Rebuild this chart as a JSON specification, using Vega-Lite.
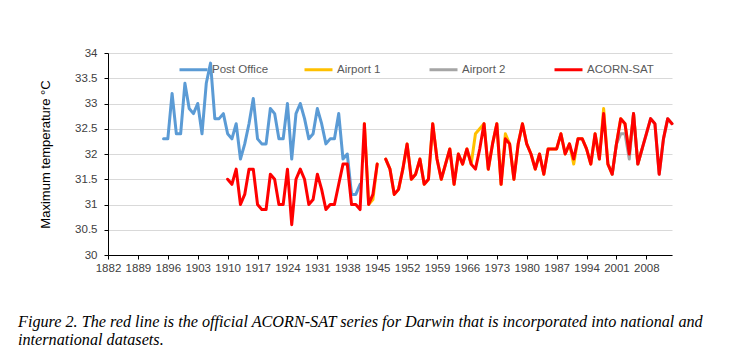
{
"$schema":"https://vega.github.io/schema/vega-lite/v6.json",
"width":564,"height":202,
"autosize":{"type":"none"},
"padding":{"left":108,"top":53,"right":62,"bottom":104},
"background":"white",
"config":{"view":{"stroke":null},"font":"Liberation Sans"},
"title":{"text":["Figure 2.  The red line is the official ACORN-SAT series for Darwin that is incorporated into national and","international datasets."],"orient":"bottom","anchor":"start","frame":"group","dx":-90,"offset":40,"font":"Liberation Serif","fontStyle":"italic","fontWeight":"normal","fontSize":16.2,"color":"#000000","lineHeight":18},
"data":{"values":[
{"year":1895,"series":"Post Office","temp":32.3},{"year":1896,"series":"Post Office","temp":32.3},{"year":1897,"series":"Post Office","temp":33.2},{"year":1898,"series":"Post Office","temp":32.4},{"year":1899,"series":"Post Office","temp":32.4},{"year":1900,"series":"Post Office","temp":33.4},{"year":1901,"series":"Post Office","temp":32.9},{"year":1902,"series":"Post Office","temp":32.8},{"year":1903,"series":"Post Office","temp":33.0},{"year":1904,"series":"Post Office","temp":32.4},{"year":1905,"series":"Post Office","temp":33.4},{"year":1906,"series":"Post Office","temp":33.8},{"year":1907,"series":"Post Office","temp":32.7},{"year":1908,"series":"Post Office","temp":32.7},{"year":1909,"series":"Post Office","temp":32.8},{"year":1910,"series":"Post Office","temp":32.4},{"year":1911,"series":"Post Office","temp":32.3},{"year":1912,"series":"Post Office","temp":32.6},{"year":1913,"series":"Post Office","temp":31.9},{"year":1914,"series":"Post Office","temp":32.2},{"year":1915,"series":"Post Office","temp":32.6},{"year":1916,"series":"Post Office","temp":33.1},{"year":1917,"series":"Post Office","temp":32.3},{"year":1918,"series":"Post Office","temp":32.2},{"year":1919,"series":"Post Office","temp":32.2},{"year":1920,"series":"Post Office","temp":32.9},{"year":1921,"series":"Post Office","temp":32.8},{"year":1922,"series":"Post Office","temp":32.3},{"year":1923,"series":"Post Office","temp":32.3},{"year":1924,"series":"Post Office","temp":33.0},{"year":1925,"series":"Post Office","temp":31.9},{"year":1926,"series":"Post Office","temp":32.8},{"year":1927,"series":"Post Office","temp":33.0},{"year":1928,"series":"Post Office","temp":32.7},{"year":1929,"series":"Post Office","temp":32.3},{"year":1930,"series":"Post Office","temp":32.4},{"year":1931,"series":"Post Office","temp":32.9},{"year":1932,"series":"Post Office","temp":32.6},{"year":1933,"series":"Post Office","temp":32.2},{"year":1934,"series":"Post Office","temp":32.3},{"year":1935,"series":"Post Office","temp":32.3},{"year":1936,"series":"Post Office","temp":32.8},{"year":1937,"series":"Post Office","temp":31.9},{"year":1938,"series":"Post Office","temp":32.0},{"year":1939,"series":"Post Office","temp":31.2},{"year":1940,"series":"Post Office","temp":31.2},{"year":1941,"series":"Post Office","temp":31.4},
{"year":1942,"series":"Airport 1","temp":32.6},{"year":1943,"series":"Airport 1","temp":31.0},{"year":1944,"series":"Airport 1","temp":31.1},{"year":1945,"series":"Airport 1","temp":31.8},{"year":1946,"series":"Airport 1","temp":null},{"year":1947,"series":"Airport 1","temp":31.9},{"year":1948,"series":"Airport 1","temp":31.7},{"year":1949,"series":"Airport 1","temp":31.2},{"year":1950,"series":"Airport 1","temp":31.3},{"year":1951,"series":"Airport 1","temp":31.7},{"year":1952,"series":"Airport 1","temp":32.2},{"year":1953,"series":"Airport 1","temp":31.5},{"year":1954,"series":"Airport 1","temp":31.6},{"year":1955,"series":"Airport 1","temp":31.9},{"year":1956,"series":"Airport 1","temp":31.4},{"year":1957,"series":"Airport 1","temp":31.5},{"year":1958,"series":"Airport 1","temp":32.6},{"year":1959,"series":"Airport 1","temp":31.9},{"year":1960,"series":"Airport 1","temp":31.5},{"year":1961,"series":"Airport 1","temp":31.8},{"year":1962,"series":"Airport 1","temp":32.1},{"year":1963,"series":"Airport 1","temp":31.4},{"year":1964,"series":"Airport 1","temp":32.0},{"year":1965,"series":"Airport 1","temp":31.8},{"year":1966,"series":"Airport 1","temp":32.1},{"year":1967,"series":"Airport 1","temp":31.8},{"year":1968,"series":"Airport 1","temp":32.4},{"year":1969,"series":"Airport 1","temp":32.5},{"year":1970,"series":"Airport 1","temp":32.6},{"year":1971,"series":"Airport 1","temp":31.7},{"year":1972,"series":"Airport 1","temp":32.2},{"year":1973,"series":"Airport 1","temp":32.6},{"year":1974,"series":"Airport 1","temp":31.4},{"year":1975,"series":"Airport 1","temp":32.4},{"year":1976,"series":"Airport 1","temp":32.2},{"year":1977,"series":"Airport 1","temp":31.5},{"year":1978,"series":"Airport 1","temp":32.2},{"year":1979,"series":"Airport 1","temp":32.6},{"year":1980,"series":"Airport 1","temp":32.2},{"year":1981,"series":"Airport 1","temp":32.0},{"year":1982,"series":"Airport 1","temp":31.7},{"year":1983,"series":"Airport 1","temp":32.0},{"year":1984,"series":"Airport 1","temp":31.6},{"year":1985,"series":"Airport 1","temp":32.1},{"year":1986,"series":"Airport 1","temp":32.1},{"year":1987,"series":"Airport 1","temp":32.1},{"year":1988,"series":"Airport 1","temp":32.4},{"year":1989,"series":"Airport 1","temp":32.0},{"year":1990,"series":"Airport 1","temp":32.2},{"year":1991,"series":"Airport 1","temp":31.8},{"year":1992,"series":"Airport 1","temp":32.3},{"year":1993,"series":"Airport 1","temp":32.3},{"year":1994,"series":"Airport 1","temp":32.1},{"year":1995,"series":"Airport 1","temp":31.8},{"year":1996,"series":"Airport 1","temp":32.4},{"year":1997,"series":"Airport 1","temp":31.9},{"year":1998,"series":"Airport 1","temp":32.9},{"year":1999,"series":"Airport 1","temp":31.8},{"year":2000,"series":"Airport 1","temp":31.6},{"year":2001,"series":"Airport 1","temp":32.2},{"year":2002,"series":"Airport 1","temp":32.7},{"year":2003,"series":"Airport 1","temp":32.6},{"year":2004,"series":"Airport 1","temp":32.0},{"year":2005,"series":"Airport 1","temp":32.8},{"year":2006,"series":"Airport 1","temp":31.8},{"year":2007,"series":"Airport 1","temp":32.1},
{"year":2000,"series":"Airport 2","temp":31.6},{"year":2001,"series":"Airport 2","temp":32.2},{"year":2002,"series":"Airport 2","temp":32.4},{"year":2003,"series":"Airport 2","temp":32.4},{"year":2004,"series":"Airport 2","temp":31.9},{"year":2005,"series":"Airport 2","temp":32.8},{"year":2006,"series":"Airport 2","temp":31.8},{"year":2007,"series":"Airport 2","temp":32.1},{"year":2008,"series":"Airport 2","temp":32.4},{"year":2009,"series":"Airport 2","temp":32.7},{"year":2010,"series":"Airport 2","temp":32.6},{"year":2011,"series":"Airport 2","temp":31.6},{"year":2012,"series":"Airport 2","temp":32.3},{"year":2013,"series":"Airport 2","temp":32.7},{"year":2014,"series":"Airport 2","temp":32.6},
{"year":1910,"series":"ACORN-SAT","temp":31.5},{"year":1911,"series":"ACORN-SAT","temp":31.4},{"year":1912,"series":"ACORN-SAT","temp":31.7},{"year":1913,"series":"ACORN-SAT","temp":31.0},{"year":1914,"series":"ACORN-SAT","temp":31.2},{"year":1915,"series":"ACORN-SAT","temp":31.7},{"year":1916,"series":"ACORN-SAT","temp":31.7},{"year":1917,"series":"ACORN-SAT","temp":31.0},{"year":1918,"series":"ACORN-SAT","temp":30.9},{"year":1919,"series":"ACORN-SAT","temp":30.9},{"year":1920,"series":"ACORN-SAT","temp":31.6},{"year":1921,"series":"ACORN-SAT","temp":31.5},{"year":1922,"series":"ACORN-SAT","temp":31.0},{"year":1923,"series":"ACORN-SAT","temp":31.0},{"year":1924,"series":"ACORN-SAT","temp":31.7},{"year":1925,"series":"ACORN-SAT","temp":30.6},{"year":1926,"series":"ACORN-SAT","temp":31.5},{"year":1927,"series":"ACORN-SAT","temp":31.7},{"year":1928,"series":"ACORN-SAT","temp":31.5},{"year":1929,"series":"ACORN-SAT","temp":31.0},{"year":1930,"series":"ACORN-SAT","temp":31.1},{"year":1931,"series":"ACORN-SAT","temp":31.6},{"year":1932,"series":"ACORN-SAT","temp":31.3},{"year":1933,"series":"ACORN-SAT","temp":30.9},{"year":1934,"series":"ACORN-SAT","temp":31.0},{"year":1935,"series":"ACORN-SAT","temp":31.0},{"year":1936,"series":"ACORN-SAT","temp":31.4},{"year":1937,"series":"ACORN-SAT","temp":31.8},{"year":1938,"series":"ACORN-SAT","temp":31.8},{"year":1939,"series":"ACORN-SAT","temp":31.0},{"year":1940,"series":"ACORN-SAT","temp":31.0},{"year":1941,"series":"ACORN-SAT","temp":30.9},{"year":1942,"series":"ACORN-SAT","temp":32.6},{"year":1943,"series":"ACORN-SAT","temp":31.0},{"year":1944,"series":"ACORN-SAT","temp":31.2},{"year":1945,"series":"ACORN-SAT","temp":31.8},{"year":1946,"series":"ACORN-SAT","temp":null},{"year":1947,"series":"ACORN-SAT","temp":31.9},{"year":1948,"series":"ACORN-SAT","temp":31.7},{"year":1949,"series":"ACORN-SAT","temp":31.2},{"year":1950,"series":"ACORN-SAT","temp":31.3},{"year":1951,"series":"ACORN-SAT","temp":31.7},{"year":1952,"series":"ACORN-SAT","temp":32.2},{"year":1953,"series":"ACORN-SAT","temp":31.5},{"year":1954,"series":"ACORN-SAT","temp":31.6},{"year":1955,"series":"ACORN-SAT","temp":31.9},{"year":1956,"series":"ACORN-SAT","temp":31.4},{"year":1957,"series":"ACORN-SAT","temp":31.5},{"year":1958,"series":"ACORN-SAT","temp":32.6},{"year":1959,"series":"ACORN-SAT","temp":31.9},{"year":1960,"series":"ACORN-SAT","temp":31.5},{"year":1961,"series":"ACORN-SAT","temp":31.8},{"year":1962,"series":"ACORN-SAT","temp":32.1},{"year":1963,"series":"ACORN-SAT","temp":31.4},{"year":1964,"series":"ACORN-SAT","temp":32.0},{"year":1965,"series":"ACORN-SAT","temp":31.8},{"year":1966,"series":"ACORN-SAT","temp":32.1},{"year":1967,"series":"ACORN-SAT","temp":31.8},{"year":1968,"series":"ACORN-SAT","temp":31.7},{"year":1969,"series":"ACORN-SAT","temp":32.1},{"year":1970,"series":"ACORN-SAT","temp":32.6},{"year":1971,"series":"ACORN-SAT","temp":31.7},{"year":1972,"series":"ACORN-SAT","temp":32.2},{"year":1973,"series":"ACORN-SAT","temp":32.6},{"year":1974,"series":"ACORN-SAT","temp":31.4},{"year":1975,"series":"ACORN-SAT","temp":32.3},{"year":1976,"series":"ACORN-SAT","temp":32.2},{"year":1977,"series":"ACORN-SAT","temp":31.5},{"year":1978,"series":"ACORN-SAT","temp":32.2},{"year":1979,"series":"ACORN-SAT","temp":32.6},{"year":1980,"series":"ACORN-SAT","temp":32.2},{"year":1981,"series":"ACORN-SAT","temp":32.0},{"year":1982,"series":"ACORN-SAT","temp":31.7},{"year":1983,"series":"ACORN-SAT","temp":32.0},{"year":1984,"series":"ACORN-SAT","temp":31.6},{"year":1985,"series":"ACORN-SAT","temp":32.1},{"year":1986,"series":"ACORN-SAT","temp":32.1},{"year":1987,"series":"ACORN-SAT","temp":32.1},{"year":1988,"series":"ACORN-SAT","temp":32.4},{"year":1989,"series":"ACORN-SAT","temp":32.0},{"year":1990,"series":"ACORN-SAT","temp":32.2},{"year":1991,"series":"ACORN-SAT","temp":31.9},{"year":1992,"series":"ACORN-SAT","temp":32.3},{"year":1993,"series":"ACORN-SAT","temp":32.3},{"year":1994,"series":"ACORN-SAT","temp":32.1},{"year":1995,"series":"ACORN-SAT","temp":31.8},{"year":1996,"series":"ACORN-SAT","temp":32.4},{"year":1997,"series":"ACORN-SAT","temp":31.9},{"year":1998,"series":"ACORN-SAT","temp":32.8},{"year":1999,"series":"ACORN-SAT","temp":31.8},{"year":2000,"series":"ACORN-SAT","temp":31.6},{"year":2001,"series":"ACORN-SAT","temp":32.2},{"year":2002,"series":"ACORN-SAT","temp":32.7},{"year":2003,"series":"ACORN-SAT","temp":32.6},{"year":2004,"series":"ACORN-SAT","temp":32.0},{"year":2005,"series":"ACORN-SAT","temp":32.8},{"year":2006,"series":"ACORN-SAT","temp":31.8},{"year":2007,"series":"ACORN-SAT","temp":32.1},{"year":2008,"series":"ACORN-SAT","temp":32.4},{"year":2009,"series":"ACORN-SAT","temp":32.7},{"year":2010,"series":"ACORN-SAT","temp":32.6},{"year":2011,"series":"ACORN-SAT","temp":31.6},{"year":2012,"series":"ACORN-SAT","temp":32.3},{"year":2013,"series":"ACORN-SAT","temp":32.7},{"year":2014,"series":"ACORN-SAT","temp":32.6}
]},
"encoding":{
 "x":{"field":"year","type":"quantitative","scale":{"domain":[1882,2014],"nice":false,"zero":false},
  "axis":{"title":null,"values":[1882,1889,1896,1903,1910,1917,1924,1931,1938,1945,1952,1959,1966,1973,1980,1987,1994,2001,2008],"format":"d","grid":false,"domainColor":"#000000","tickColor":"#000000","tickSize":4,"labelPadding":3,"labelFontSize":11.5,"labelColor":"#404040","labelFont":"Liberation Sans","labelFlush":false,"labelOverlap":false}},
 "y":{"field":"temp","type":"quantitative","scale":{"domain":[30,34],"nice":false,"zero":false},
  "axis":{"title":"Maximum temperature °C","values":[30,30.5,31,31.5,32,32.5,33,33.5,34],"format":".1~f","grid":true,"gridColor":"#D9D9D9","gridWidth":1,"domainColor":"#000000","tickColor":"#000000","tickSize":4,"labelPadding":7,"labelFontSize":11.5,"labelColor":"#404040","labelFont":"Liberation Sans","titleFont":"Liberation Sans","titleFontSize":13,"titleFontWeight":"normal","titleColor":"#000000","titlePadding":22}},
 "color":{"field":"series","type":"nominal","scale":{"domain":["Post Office","Airport 1","Airport 2","ACORN-SAT"],"range":["#5B9BD5","#FFC000","#A5A5A5","#FF0000"]},
  "legend":{"title":null,"orient":"none","legendX":70,"legendY":1,"direction":"horizontal","columns":4,"gridAlign":"all","columnPadding":19,"symbolType":"stroke","symbolSize":784,"symbolStrokeWidth":3,"labelFont":"Liberation Sans","labelFontSize":11.5,"labelColor":"#595959","labelOffset":3,"padding":0}}
},
"layer":[
 {"transform":[{"filter":"datum.series === 'Post Office'"}],"mark":{"type":"line","strokeWidth":3,"strokeJoin":"round","strokeCap":"round"}},
 {"transform":[{"filter":"datum.series === 'Airport 1'"}],"mark":{"type":"line","strokeWidth":3,"strokeJoin":"round","strokeCap":"round"}},
 {"transform":[{"filter":"datum.series === 'Airport 2'"}],"mark":{"type":"line","strokeWidth":3,"strokeJoin":"round","strokeCap":"round"}},
 {"transform":[{"filter":"datum.series === 'ACORN-SAT'"}],"mark":{"type":"line","strokeWidth":3,"strokeJoin":"round","strokeCap":"round"}}
]
}
